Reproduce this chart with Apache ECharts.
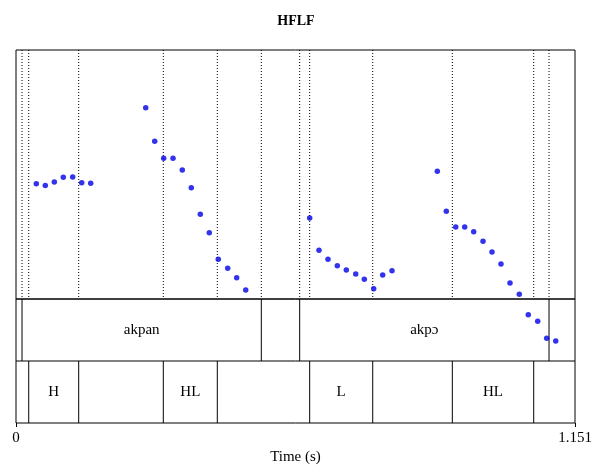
<!DOCTYPE html>
<html>
<head>
<meta charset="utf-8">
<script src="https://cdn.jsdelivr.net/npm/echarts@6/dist/echarts.min.js"></script>
<style>
  html, body { margin: 0; padding: 0; background: #fff; }
  #chart { width: 592px; height: 468px; }
</style>
</head>
<body>
<div id="chart"></div>
<script>
// Pitch track (time in s, F0 in Hz)
const pitchTimes = [
  0.0418, 0.0603, 0.0789, 0.0974, 0.1167, 0.1353, 0.1538,
  0.2671, 0.2856, 0.3041, 0.3233, 0.3424, 0.3609, 0.3795, 0.3980, 0.4165, 0.4359, 0.4544, 0.4730,
  0.6047, 0.6239, 0.6424, 0.6616, 0.6801, 0.6995, 0.7172, 0.7365, 0.7550, 0.7742,
  0.8675, 0.8860, 0.9054, 0.9239, 0.9424, 0.9616, 0.9801, 0.9986, 1.0172, 1.0363, 1.0548, 1.0742, 1.0927, 1.1113
];
const pitchHz = [
  169.5, 168.3, 170.5, 173.3, 173.5, 170.1, 169.7,
  215.2, 195.0, 184.8, 184.8, 177.7, 167.0, 151.0, 139.9, 123.9, 118.5, 112.8, 105.4,
  148.8, 129.3, 123.9, 120.1, 117.5, 115.1, 111.9, 106.2, 114.5, 117.0,
  176.9, 152.8, 143.4, 143.4, 140.5, 134.8, 128.3, 121.1, 109.6, 102.8, 90.5, 86.6, 76.3, 74.7
];

// Word tier: interval boundaries and labels
const wordBounds = [0, 0.0124, 0.5051, 0.5841, 1.0975, 1.151];
const wordLabels = ['', 'akpan', '', 'akpɔ', ''];

// Tone tier: interval boundaries and labels
const toneBounds = [0, 0.0262, 0.1291, 0.3033, 0.4145, 0.6047, 0.7345, 0.8984, 1.0660, 1.151];
const toneLabels = ['', 'H', '', 'HL', '', 'L', '', 'HL', ''];

const totalDur = 1.151;
const serif = "'Liberation Serif', 'Times New Roman', serif";

// Inner boundaries of both tiers, drawn as dotted guides over the pitch area
const innerBounds = wordBounds.slice(1, -1).concat(toneBounds.slice(1, -1)).sort((a, b) => a - b);

// Tier boundary segments: [time, lower row value, upper row value]
const boundarySegs = []
  .concat(wordBounds.slice(1, -1).map(t => [t, 1, 2]))
  .concat(toneBounds.slice(1, -1).map(t => [t, 0, 1]));

// Tier labels: [mid time, row center, text]
const tierTexts = [];
wordLabels.forEach((s, i) => { if (s) tierTexts.push([(wordBounds[i] + wordBounds[i + 1]) / 2, 1.5, s]); });
toneLabels.forEach((s, i) => { if (s) tierTexts.push([(toneBounds[i] + toneBounds[i + 1]) / 2, 0.5, s]); });

const chart = echarts.init(document.getElementById('chart'), null, { renderer: 'canvas' });

chart.setOption({
  animation: false,
  backgroundColor: '#fff',
  title: {
    text: 'HFLF',
    left: 'center',
    top: 9,
    textStyle: { fontFamily: serif, fontWeight: 'bold', fontSize: 14, color: '#000' }
  },
  grid: [
    { left: 16, right: 17, top: 50, height: 249, outerBoundsMode: 'none', containLabel: false,
      show: true, borderColor: '#000', borderWidth: 1, backgroundColor: 'transparent' },
    { left: 16, right: 17, top: 299, height: 124, outerBoundsMode: 'none', containLabel: false,
      show: true, borderColor: '#000', borderWidth: 1, backgroundColor: 'transparent' }
  ],
  xAxis: [
    { gridIndex: 0, type: 'value', min: 0, max: totalDur, show: false },
    {
      gridIndex: 1, type: 'value', min: 0, max: totalDur, interval: totalDur,
      name: 'Time (s)', nameLocation: 'middle', nameGap: 27,
      nameTextStyle: { fontFamily: serif, fontSize: 15, color: '#000' },
      axisLine: { show: false },
      axisTick: { show: true, length: 4, inside: false, lineStyle: { color: '#000', width: 1 } },
      axisLabel: { fontFamily: serif, fontSize: 15, color: '#000', margin: 8, formatter: v => (v === 0 ? '0' : v.toFixed(3)) },
      splitLine: { show: false }
    }
  ],
  yAxis: [
    { gridIndex: 0, type: 'value', min: 100, max: 250, show: false },
    { gridIndex: 1, type: 'value', min: 0, max: 2, show: false }
  ],
  series: [
    {
      // dotted guides at every tier boundary
      type: 'custom',
      xAxisIndex: 0, yAxisIndex: 0,
      data: innerBounds.map(t => [t]),
      renderItem: (params, api) => {
        const p1 = api.coord([api.value(0), 250]);
        const p2 = api.coord([api.value(0), 100]);
        return {
          type: 'line',
          shape: { x1: p1[0], y1: p1[1], x2: p2[0], y2: p2[1] },
          style: { stroke: '#000', lineWidth: 1, lineDash: [1, 2] }
        };
      },
      z: 1, silent: true
    },
    {
      // divider between the two tiers
      type: 'custom',
      xAxisIndex: 1, yAxisIndex: 1,
      data: [[0, 1]],
      renderItem: (params, api) => {
        const p1 = api.coord([0, 1]);
        const p2 = api.coord([totalDur, 1]);
        return {
          type: 'line',
          shape: { x1: p1[0], y1: p1[1], x2: p2[0], y2: p2[1] },
          style: { stroke: '#000', lineWidth: 1 }
        };
      },
      z: 2, silent: true
    },
    {
      // interval boundaries in the tiers
      type: 'custom',
      xAxisIndex: 1, yAxisIndex: 1,
      data: boundarySegs,
      renderItem: (params, api) => {
        const p1 = api.coord([api.value(0), api.value(1)]);
        const p2 = api.coord([api.value(0), api.value(2)]);
        return {
          type: 'line',
          shape: { x1: p1[0], y1: p1[1], x2: p2[0], y2: p2[1] },
          style: { stroke: '#000', lineWidth: 1 }
        };
      },
      z: 2, silent: true
    },
    {
      // interval labels
      type: 'custom',
      xAxisIndex: 1, yAxisIndex: 1,
      data: tierTexts,
      dimensions: ['t', 'row', 'label'],
      renderItem: (params, api) => {
        const p = api.coord([api.value(0), api.value(1)]);
        return {
          type: 'text',
          style: {
            text: tierTexts[params.dataIndex][2],
            x: p[0], y: p[1],
            align: 'center', verticalAlign: 'middle',
            font: '15px ' + serif,
            fill: '#000'
          }
        };
      },
      z: 3, silent: true
    },
    {
      type: 'scatter',
      xAxisIndex: 0, yAxisIndex: 0,
      data: pitchTimes.map((t, i) => [t, pitchHz[i]]),
      symbol: 'circle',
      symbolSize: 5.5,
      itemStyle: { color: '#0000e6' },
      clip: false,
      z: 10, silent: true
    }
  ]
});
</script>
</body>
</html>
